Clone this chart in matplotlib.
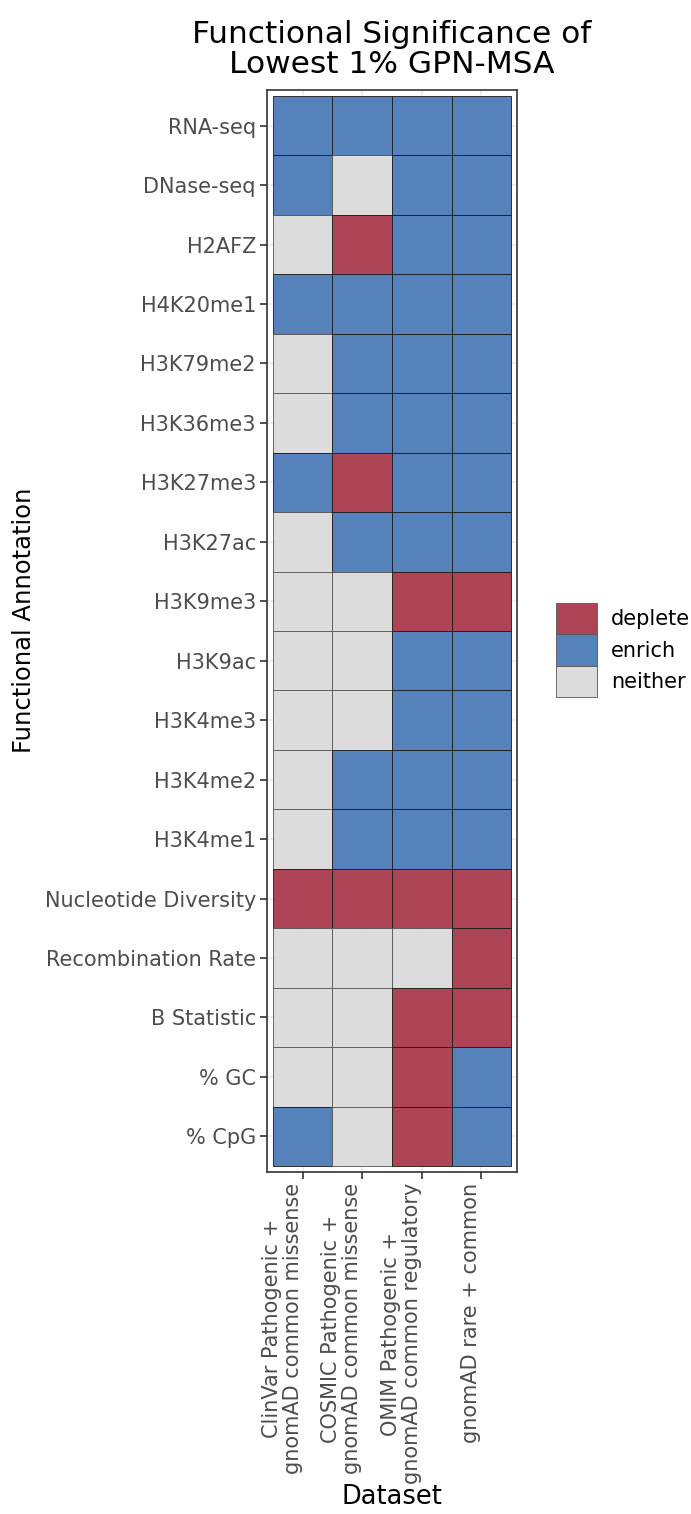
import numpy as np
import matplotlib
matplotlib.use("Agg")
import matplotlib.pyplot as plt
from matplotlib.patches import Patch

# annotations, top to bottom
annotations = ["RNA-seq", "DNase-seq", "H2AFZ", "H4K20me1", "H3K79me2", "H3K36me3",
               "H3K27me3", "H3K27ac", "H3K9me3", "H3K9ac", "H3K4me3", "H3K4me2",
               "H3K4me1", "Nucleotide Diversity", "Recombination Rate", "B Statistic",
               "% GC", "% CpG"]
datasets = ["ClinVar Pathogenic +\ngnomAD common missense",
            "COSMIC Pathogenic +\ngnomAD common missense",
            "OMIM Pathogenic +\ngnomAD common regulatory",
            "gnomAD rare + common"]

# one string per annotation, one letter per dataset: E=enrich, D=deplete, N=neither
calls = ["EEEE", "ENEE", "NDEE", "EEEE", "NEEE", "NEEE",
         "EDEE", "NEEE", "NNDD", "NNEE", "NNEE", "NEEE",
         "NEEE", "DDDD", "NNND", "NNDD", "NNDE", "ENDE"]

labels = {"D": "deplete", "E": "enrich", "N": "neither"}
colors = {"deplete": "#AE4556", "enrich": "#5582BA", "neither": "#DCDCDC"}

fig = plt.figure(figsize=(6.91, 15.14), dpi=100)
W, H = 691, 1514
ax = fig.add_axes([267 / W, (H - 1172) / H, 250 / W, 1082 / H])

n = len(annotations)
for i, row in enumerate(calls):
    y = n - i  # first annotation on top
    for j, c in enumerate(row):
        lab = labels[c]
        ec = "#555555" if lab == "neither" else "#1a1a1a"
        ax.bar(j + 1, 1, bottom=y - 0.5, width=1, color=colors[lab],
               edgecolor=ec, linewidth=0.6, zorder=2)

ax.set_xlim(0.4, len(datasets) + 0.6)
ax.set_ylim(0.4, n + 0.6)
ax.set_xticks(np.arange(1, len(datasets) + 1))
ax.set_xticklabels(datasets, rotation=90, ha="right", va="top", multialignment="center",
                   fontsize=15, color="#4D4D4D", linespacing=1.05)
ax.set_yticks(np.arange(n, 0, -1))
ax.set_yticklabels(annotations, fontsize=15, color="#4D4D4D")
ax.tick_params(length=5, width=1.2, color="#333333", pad=3)
ax.grid(True, color="#EBEBEB", linewidth=1.2, zorder=0)
ax.set_axisbelow(True)
for s in ax.spines.values():
    s.set_color("#333333")
    s.set_linewidth(1.2)

ax.set_xlabel("Dataset", fontsize=18.5)
ax.xaxis.set_label_coords(392 / W, 4 / H, transform=fig.transFigure)
ax.xaxis.label.set_va("bottom")
ax.set_ylabel("Functional Annotation", fontsize=17.5)
ax.yaxis.set_label_coords(36 / W, (H - 620) / H, transform=fig.transFigure)
ax.set_title("Functional Significance of\nLowest 1% GPN-MSA", fontsize=22.5,
             pad=12, linespacing=1.05)

handles = [Patch(facecolor=colors[k], edgecolor="#555555", linewidth=0.6, label=k)
           for k in ["deplete", "enrich", "neither"]]
fig.legend(handles=handles, loc="center left", bbox_to_anchor=(556 / W, (H - 650) / H),
           frameon=False, fontsize=15, handlelength=1.95, handleheight=1.95,
           handletextpad=0.7, labelspacing=0.0, borderaxespad=0, borderpad=0)

fig.savefig("out.png", dpi=100)
